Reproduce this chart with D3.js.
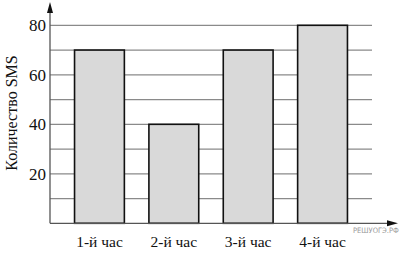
<!DOCTYPE html>
<html>
<head>
<meta charset="utf-8">
<script src="https://cdn.jsdelivr.net/npm/d3@7"></script>
<style>
  body { margin: 0; background: #fff; }
  svg { display: block; }
  text { font-family: "Liberation Serif", "DejaVu Serif", serif; }
  text.mark { font-family: "DejaVu Sans Condensed", "DejaVu Sans", sans-serif; }
</style>
</head>
<body>
<svg id="chart" width="400" height="255"></svg>
<script>
// данные
const hours = ["1-й час", "2-й час", "3-й час", "4-й час"];
const smsCount = [70, 40, 70, 80];
const tickLabels = [20, 40, 60, 80];
const gridValues = [10, 20, 30, 40, 50, 60, 70, 80];

const svg = d3.select("#chart");

const x0 = 50, x1 = 372;
const x = d3.scaleBand().domain(hours).range([x0, x1])
    .paddingInner(0.33).paddingOuter(0.33);
const y = d3.scaleLinear().domain([0, 80]).range([223.3, 25.3]);

// сетка
svg.append("g").selectAll("line")
    .data(gridValues)
    .enter().append("line")
    .attr("x1", x0).attr("x2", x1)
    .attr("y1", d => y(d)).attr("y2", d => y(d))
    .attr("stroke", "#8a8a8a")
    .attr("stroke-width", 1.3);

// столбцы
svg.append("g").selectAll("rect")
    .data(smsCount)
    .enter().append("rect")
    .attr("x", (d, i) => x(hours[i]))
    .attr("width", x.bandwidth())
    .attr("y", d => y(d))
    .attr("height", d => y(0) - y(d))
    .attr("fill", "#d9d9d9")
    .attr("stroke", "#111")
    .attr("stroke-width", 1.6);

// оси со стрелками
svg.append("line")
    .attr("x1", x0).attr("x2", x0)
    .attr("y1", y(0)).attr("y2", 10)
    .attr("stroke", "#555").attr("stroke-width", 1.3);
svg.append("path")
    .attr("d", `M${x0},2 L${x0 - 3},13 L${x0 + 3},13 Z`)
    .attr("fill", "#111");

svg.append("line")
    .attr("x1", x0).attr("x2", 390)
    .attr("y1", y(0)).attr("y2", y(0))
    .attr("stroke", "#555").attr("stroke-width", 1.3);
svg.append("path")
    .attr("d", `M398,${y(0)} L387,${y(0) - 3} L387,${y(0) + 3} Z`)
    .attr("fill", "#111");

// подписи по оси Y
svg.append("g").selectAll("text")
    .data(tickLabels)
    .enter().append("text")
    .attr("x", 46)
    .attr("y", d => y(d))
    .attr("dy", "0.35em")
    .attr("text-anchor", "end")
    .attr("font-size", 17)
    .attr("fill", "#111")
    .text(d => d);

// подписи по оси X
svg.append("g").selectAll("text")
    .data(hours)
    .enter().append("text")
    .attr("x", d => x(d) + x.bandwidth() / 2)
    .attr("y", 247)
    .attr("text-anchor", "middle")
    .attr("font-size", 15.5)
    .attr("fill", "#111")
    .text(d => d);

svg.append("text")
    .attr("transform", "translate(17,113) rotate(-90)")
    .attr("text-anchor", "middle")
    .attr("font-size", 16)
    .attr("fill", "#111")
    .text("Количество SMS");

// водяной знак
svg.append("text")
    .attr("class", "mark")
    .attr("x", 353)
    .attr("y", 233)
    .attr("font-size", 7.5)
    .attr("fill", "#999")
    .text("РЕШУОГЭ.РФ");
</script>
</body>
</html>
